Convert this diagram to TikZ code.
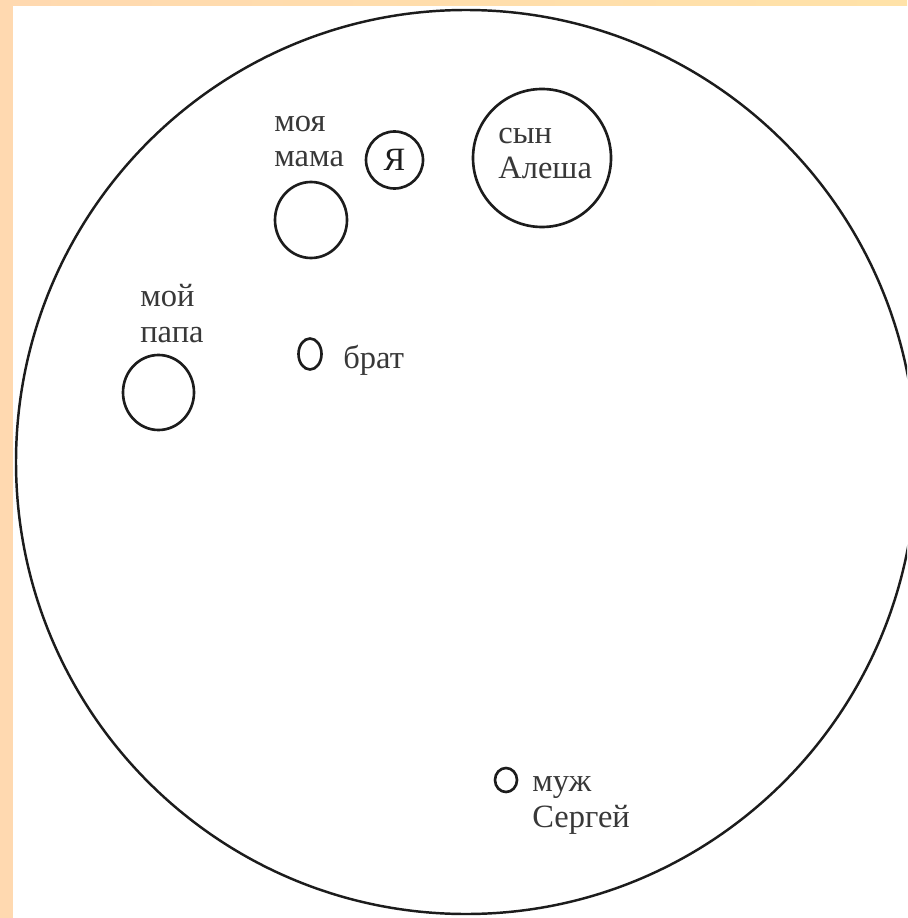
\documentclass[tikz,border=0pt]{standalone}
\usepackage{fontspec}
\setmainfont{Liberation Serif}
\usepackage{xcolor}
\usetikzlibrary{shapes.geometric, positioning}

\definecolor{peach}{HTML}{FFD9B0}
\definecolor{peachtop}{HTML}{FFE2A8}
\definecolor{ink}{HTML}{1C1C1C}
\definecolor{penc}{HTML}{383838}

\tikzset{
  ring/.style 2 args={draw=ink, line width=1.5pt, ellipse, inner sep=0pt,
    minimum width=#1*0.02cm, minimum height=#2*0.02cm},
  word/.style={text=penc, inner sep=0pt, align=left, anchor=base west,
    font=\fontsize{18.5}{20}\selectfont}
}

\begin{document}
\begin{tikzpicture}[x=0.02cm, y=-0.02cm]
    \useasboundingbox (0,0) rectangle (907,918);
    \clip (0,0) rectangle (907,918);

    % Frame
    \fill[peach] (0,0) rectangle (907,918);
    \shade[left color=peach, right color=peachtop] (0,0) rectangle (907,6);
    \fill[white] (13,6) rectangle (907,918);

    % Big circle
    \draw[ink, line width=1.4pt] (466,462) ellipse [x radius=450, y radius=452];

    % Circles
    \node[ring={72}{76}] (mama) at (311,220) {};
    \node[ring={57}{57}, text=ink, font=\fontsize{18.5}{20}\selectfont] (ya) at (394.5,160) {Я};
    \node[ring={138}{138}] (syn) at (542,158) {};
    \node[ring={71}{75}] (papa) at (158.5,392.5) {};
    \node[ring={23}{31}] (brat) at (310,354) {};
    \node[ring={22}{24}] (muzh) at (506,780) {};

    % Labels (base = last line)
    \node[word] (mamatxt) at (274,167) {моя\\мама};
    \node[word] (syntxt) at (498,179) {сын\\Алеша};
    \node[word] (papatxt) at (140,342) {мой\\папа};
    \node[word] (brattxt) at (343,368) {брат};
    \node[word] (muzhtxt) at (532,827) {муж\\Сергей};
\end{tikzpicture}
\end{document}
